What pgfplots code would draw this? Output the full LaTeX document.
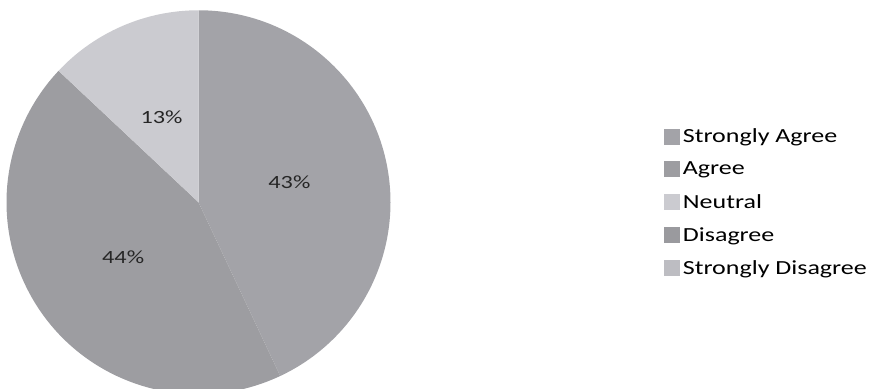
\documentclass[border=0pt]{standalone}
\usepackage{pgfplots}
\pgfplotsset{compat=1.18}
\usepackage{pgfplotstable}
\usepackage{fontspec}
\setmainfont{Carlito}[FakeStretch=1.3]

\definecolor{pc0}{HTML}{A3A3A8}
\definecolor{pc1}{HTML}{9D9DA1}
\definecolor{pc2}{HTML}{CBCBD0}
\definecolor{pc3}{HTML}{9A9A9E}
\definecolor{pc4}{HTML}{BDBDC2}

\pgfplotstableread{
label share
{Strongly Agree} 43
Agree 44
Neutral 13
Disagree 0
{Strongly Disagree} 0
}\piedata

% pie centre and radius, in axis units (1 unit = 0.75pt)
\def\cx{198.5}
\def\cy{186}
\def\Rpt{144pt}

\begin{document}
\begin{tikzpicture}
% start angles, end angles and mid angles, clockwise from 12 o'clock
\def\cum{90}
\foreach \i in {0,...,4}{
  \pgfplotstablegetelem{\i}{share}\of\piedata
  \pgfmathtruncatemacro\s{\pgfplotsretval}
  \pgfmathsetmacro\e{\cum-3.6*\s}
  \pgfmathsetmacro\m{(\cum+\e)/2}
  \expandafter\xdef\csname ps\i\endcsname{\cum}
  \expandafter\xdef\csname pe\i\endcsname{\e}
  \expandafter\xdef\csname pm\i\endcsname{\m}
  \expandafter\xdef\csname pv\i\endcsname{\s}
  \xdef\cum{\e}
}
\begin{axis}[
  scale only axis,
  width=657pt, height=291pt,
  xmin=0, xmax=876, ymin=0, ymax=388,
  hide axis,
  legend image code/.code={\fill[#1] (0pt,-6pt) rectangle (12pt,6pt);},
  legend cell align=left,
  legend style={at={(axis cs:660,265)}, anchor=north west, draw=none,
    fill=none, font=\fontsize{15}{18}\selectfont, row sep=9pt,
    /tikz/every even column/.append style={column sep=6.5pt}},
]
\begin{scope}
\clip (rel axis cs:0,0) rectangle (rel axis cs:1,1);
\pgfplotsinvokeforeach{0,1,2}{
  \fill[pc#1] (axis cs:\cx,\cy) -- ++(\csname ps#1\endcsname:\Rpt)
    arc[start angle=\csname ps#1\endcsname, end angle=\csname pe#1\endcsname, radius=\Rpt] -- cycle;
}
\end{scope}
\pgfplotsinvokeforeach{0,1,2}{
  \node[font=\fontsize{14}{16}\selectfont, text=black!85]
    at (axis cs:\cx,\cy) [shift={(\csname pm#1\endcsname:0.485*\Rpt)}] {\csname pv#1\endcsname\%};
}
\addlegendimage{fill=pc0, draw=none}
\addlegendimage{fill=pc1, draw=none}
\addlegendimage{fill=pc2, draw=none}
\addlegendimage{fill=pc3, draw=none}
\addlegendimage{fill=pc4, draw=none}
\legend{Strongly Agree, Agree, Neutral, Disagree, Strongly Disagree}
\end{axis}
\pgfresetboundingbox
\path (current axis.south west) rectangle (current axis.north east);
\end{tikzpicture}
\end{document}
